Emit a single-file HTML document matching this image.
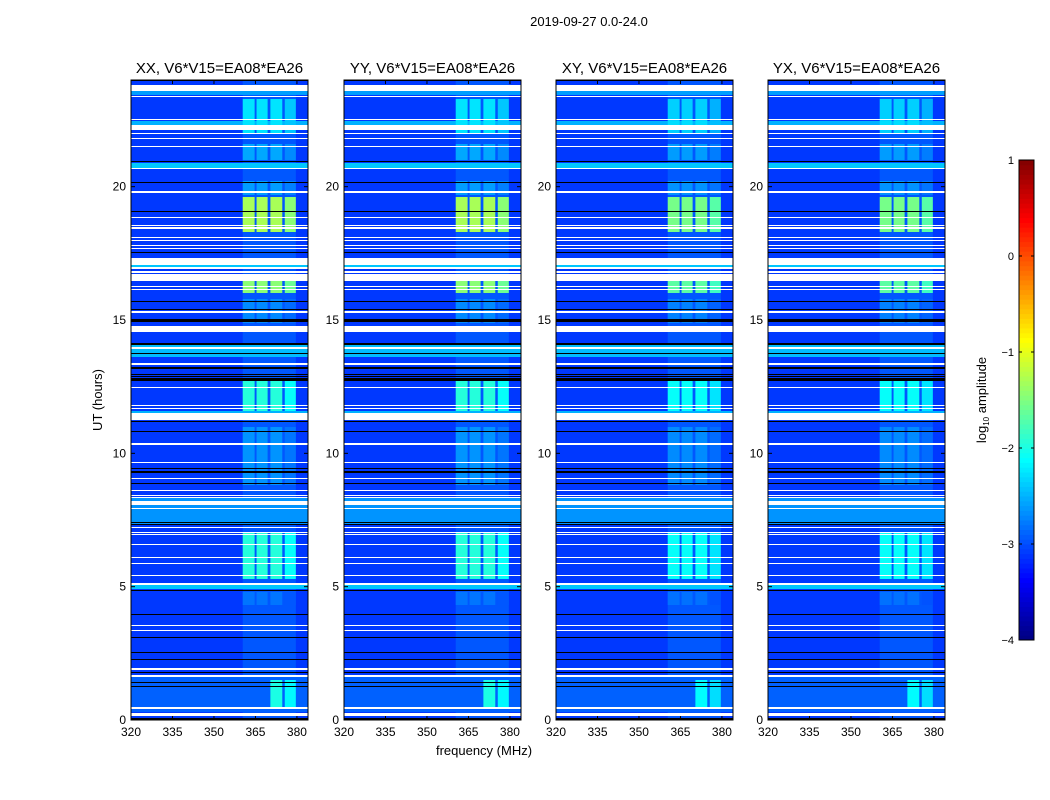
<!DOCTYPE html>
<html><head><meta charset="utf-8">
<style>
body{margin:0;background:#fff;}
svg{display:block;font-family:"Liberation Sans",sans-serif;}
</style></head>
<body>
<svg id="fig" width="1050" height="800" viewBox="0 0 1050 800">
<rect width="1050" height="800" fill="#fff"/>
<text x="589" y="26" font-size="13" text-anchor="middle">2019-09-27 0.0-24.0</text>
<g id="panels"></g>
<text x="484" y="755" font-size="13" text-anchor="middle">frequency (MHz)</text>
<text transform="translate(102,400) rotate(-90)" font-size="13" text-anchor="middle">UT (hours)</text>
<g id="cbar"></g>
<text transform="translate(986,400) rotate(-90)" font-size="13" text-anchor="middle">log<tspan font-size="8" dy="3">10</tspan><tspan dy="-3"> amplitude</tspan></text>
</svg>
<script>
// ---- data ----
const panelTitles = ["XX, V6*V15=EA08*EA26","YY, V6*V15=EA08*EA26","XY, V6*V15=EA08*EA26","YX, V6*V15=EA08*EA26"];
const panelRfiScale = [1.0, 1.0, 0.85, 0.85];
const xTicks = [320,335,350,365,380];
const yTicks = [0,5,10,15,20];
const cbarTicks = [1,0,-1,-2,-3,-4];
// flagged (white) time ranges, hours [start,end]
const whiteFlags = [[23.6,23.8],[23.36,23.40],[22.5,22.54],[22.14,22.33],[21.97,22.01],[21.78,21.82],[21.48,21.52],[20.66,20.7],[19.78,19.82],[18.81,18.85],[18.51,18.55],[18.43,18.47],[18.06,18.1],[17.95,17.99],[17.76,17.8],[17.65,17.69],[17.07,17.33],[16.93,16.97],[16.78,16.82],[16.47,16.73],[16.22,16.26],[16.11,16.15],[15.66,15.7],[15.28,15.32],[14.55,14.77],[13.93,13.97],[13.33,13.37],[12.46,12.5],[11.78,11.82],[11.67,11.71],[11.24,11.5],[10.3,10.4],[9.64,9.68],[9.04,9.08],[8.58,8.62],[8.4,8.44],[8.33,8.37],[8.08,8.2],[7.91,7.95],[7.2,7.24],[7.01,7.05],[6.93,6.97],[6.56,6.6],[6.07,6.11],[5.84,5.88],[5.39,5.43],[5.08,5.15],[3.51,3.55],[3.33,3.37],[1.88,1.95],[1.63,1.67],[0.43,0.47],[0.15,0.26]];
// dropped (black) time ranges
const blackFlags = [[23.95,24],[20.92,20.96],[20.13,20.17],[19.04,19.08],[17.5,17.54],[15.69,15.73],[15.36,15.4],[14.92,15.04],[14.08,14.12],[13.74,13.78],[13.18,13.22],[12.95,12.99],[12.87,12.91],[12.7,12.82],[11.18,11.22],[10.81,10.85],[9.42,9.46],[9.25,9.32],[8.85,8.89],[7.38,7.42],[7.31,7.35],[4.83,4.87],[3.93,3.97],[3.06,3.1],[2.5,2.54],[2.24,2.28],[1.75,1.79],[1.37,1.41],[1.22,1.26],[0.0,0.07]];
// brighter background ranges [start,end,level]
const bgBright = [[23.45,23.6,-2.6],[22.33,22.45,-2.5],[20.7,20.9,-2.4],[16.97,17.05,-2.4],[13.6,14.05,-2.45],[7.3,8.35,-2.65],[4.9,5.08,-2.4],[11.5,11.6,-2.5],[0.3,1.6,-2.9]];
const bgLevel = -3.1;
// RFI frequency bands MHz
const bandStart = [360.4,365.4,370.4,375.6];
const bandEnd   = [364.7,369.4,374.7,379.6];
// RFI time windows
const rfiStart = [22.0,21.0,19.7,18.3,16.0,14.9,11.6,8.8,5.3,4.3,0.5];
const rfiEnd   = [23.3,21.6,20.2,19.6,16.7,15.8,12.7,11.0,7.0,4.8,1.5];
const rfiLevel = [-2.25,-2.55,-2.6,-1.3,-1.45,-2.7,-1.95,-2.65,-1.95,-2.8,-2.0];
const rfiFirstBand = [0,0,0,0,0,0,0,0,0,0,2];
const bandRegionLevel = -2.95;

// ---- helpers ----
const NS="http://www.w3.org/2000/svg";
function jet(v){let t=(v+4)/5;t=Math.max(0,Math.min(1,t));
 const c=x=>Math.round(255*Math.max(0,Math.min(1,x)));
 return `rgb(${c(1.5-Math.abs(4*t-3))},${c(1.5-Math.abs(4*t-2))},${c(1.5-Math.abs(4*t-1))})`;}
function mk(tag,attrs,parent){const e=document.createElementNS(NS,tag);for(const k in attrs)e.setAttribute(k,attrs[k]);parent.appendChild(e);return e;}
const panelX=[131,344,556,768], PW=177, PT=80, PB=720;
const fMin=320, fMax=384;
const yScale=h=>PB-(h/24)*(PB-PT);
const inR=(h,arr)=>arr.some(r=>h>=r[0]&&h<r[1]);

function rowState(h,scale){
 if(inR(h,blackFlags)) return {type:'k'};
 if(inR(h,whiteFlags)) return {type:'w'};
 let bg=bgLevel; for(const b of bgBright){if(h>=b[0]&&h<b[1])bg=b[2];}
 let rl=null,fb=0;
 for(let i=0;i<rfiStart.length;i++){if(h>=rfiStart[i]&&h<rfiEnd[i]){rl=rfiLevel[i];fb=rfiFirstBand[i];}}
 return {type:'d',bg:bg,rl:rl,fb:fb,scale:scale};
}
const key=s=>JSON.stringify(s);
const root=document.getElementById('panels');
panelTitles.forEach((title,p)=>{
 const x0=panelX[p];
 const xs=f=>x0+(f-fMin)/(fMax-fMin)*PW;
 const g=mk('g',{},root);
 
 
 const hm=mk('g',{},g);
 
 
 let start=PT, prev=null;
 const flush=(y0,y1,s)=>{
  if(!s)return;
  const h=y1-y0;
  if(s.type==='k'){const r=mk('rect',{x:x0,y:y0,width:PW,height:h,fill:'#000'},hm);return;}
  if(s.type==='w'){return;}
  const r=mk('rect',{x:x0,y:y0,width:PW,height:h,fill:jet(s.bg)},hm);
  
  
  if(s.bg<bandRegionLevel){
   const br=mk('rect',{x:xs(bandStart[0]),y:y0,width:xs(bandEnd[3])-xs(bandStart[0]),height:h,fill:jet(bandRegionLevel)},hm);
   
   
  }
  if(s.rl!==null){
   const base=Math.max(s.bg,bandRegionLevel);
   const lvl=base+(s.rl-base)*s.scale;
   for(let b=s.fb;b<bandStart.length;b++){
    const c=mk('rect',{x:xs(bandStart[b]),y:y0,width:xs(bandEnd[b])-xs(bandStart[b]),height:h,fill:jet(lvl-(b===3?0.15:0))},hm);
    
    
   }
  }
 };
 for(let y=PT;y<PB;y++){
  const h=24*(PB-(y+0.5))/(PB-PT);
  const s=rowState(h,panelRfiScale[p]);
  if(prev&&key(s)!==key(prev)){flush(start,y,prev);start=y;}
  prev=s;
 }
 flush(start,PB,prev);
 const fr=mk('rect',{x:x0,y:PT,width:PW,height:PB-PT,fill:'none',stroke:'#000','stroke-width':1},g);
 
 
 const t=mk('text',{x:x0+PW/2,y:73,'font-size':15,'text-anchor':'middle'},g);
 t.textContent=title;
 
 
 xTicks.forEach(v=>{
  const x=xs(v);
  mk('line',{x1:x,x2:x,y1:PB,y2:PB-4,stroke:'#000'},g);
  mk('line',{x1:x,x2:x,y1:PT,y2:PT+4,stroke:'#000'},g);
  const l=mk('text',{x:x,y:736,'font-size':12,'text-anchor':'middle'},g);
  l.textContent=v;
  
  
 });
 yTicks.forEach(v=>{
  const y=yScale(v);
  mk('line',{x1:x0,x2:x0+4,y1:y,y2:y,stroke:'#000'},g);
  mk('line',{x1:x0+PW,x2:x0+PW-4,y1:y,y2:y,stroke:'#000'},g);
  const l=mk('text',{x:x0-5,y:y+4,'font-size':12,'text-anchor':'end'},g);
  l.textContent=v;
  
  
 });
});
// colorbar
const cb=document.getElementById('cbar');
const cbX=1019,cbW=15,cbT=160,cbB=640;
const cbY=v=>cbB-(v+4)/5*(cbB-cbT);
for(let i=0;i<100;i++){
 const v0=-4+5*i/100, v1=-4+5*(i+1)/100;
 mk('rect',{x:cbX,y:cbY(v1),width:cbW,height:cbY(v0)-cbY(v1)+0.5,fill:jet((v0+v1)/2)},cb);
}
mk('rect',{x:cbX,y:cbT,width:cbW,height:cbB-cbT,fill:'none',stroke:'#000'},cb);
cbarTicks.forEach(v=>{
 const y=cbY(v);
 mk('line',{x1:cbX,x2:cbX+3,y1:y,y2:y,stroke:'#000'},cb);
 mk('line',{x1:cbX+cbW,x2:cbX+cbW-3,y1:y,y2:y,stroke:'#000'},cb);
 const l=mk('text',{x:cbX-5,y:y+4,'font-size':11,'text-anchor':'end'},cb);
 l.textContent=v<0?'\u2212'+(-v):v;
 
 
});
</script>
</body></html>
